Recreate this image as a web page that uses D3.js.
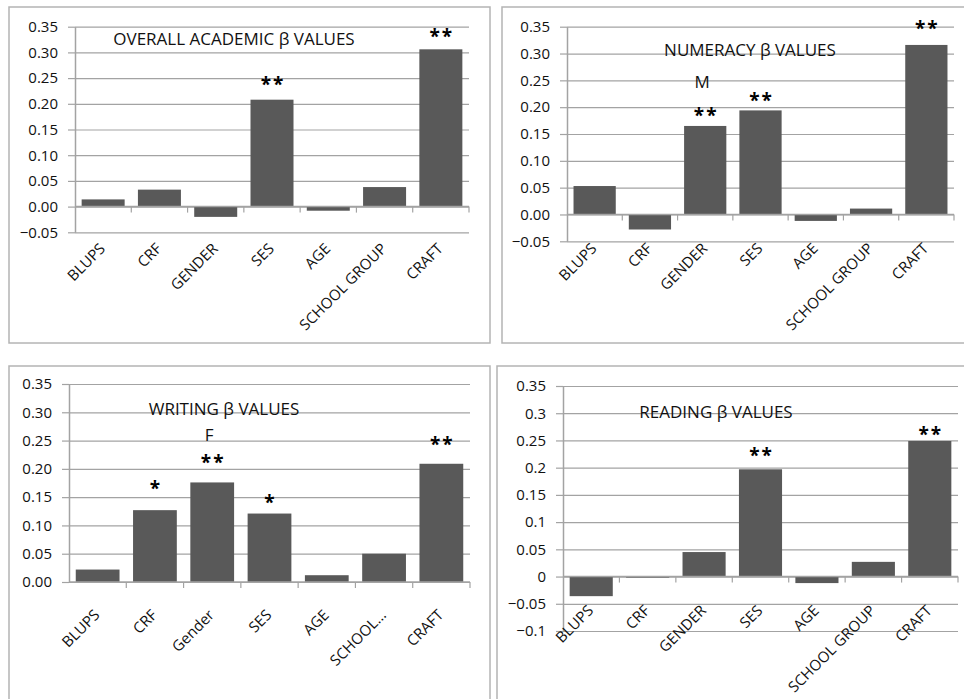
<!DOCTYPE html>
<html>
<head>
<meta charset="utf-8">
<script src="https://cdn.jsdelivr.net/npm/d3@7"></script>
<style>
  body { margin: 0; background: #fff; }
  svg { display: block; font-family: "Open Sans", sans-serif; }
</style>
</head>
<body>
<svg id="chart" width="964" height="699"></svg>
<script>
const categories = ['BLUPS', 'CRF', 'GENDER', 'SES', 'AGE', 'SCHOOL GROUP', 'CRAFT'];
const writingCategories = ['BLUPS', 'CRF', 'Gender', 'SES', 'AGE', 'SCHOOL...', 'CRAFT'];

const overallValues = [0.014, 0.033, -0.020, 0.208, -0.008, 0.038, 0.306];
const numeracyValues = [0.053, -0.028, 0.165, 0.194, -0.012, 0.011, 0.316];
const writingValues = [0.022, 0.127, 0.176, 0.121, 0.012, 0.050, 0.209];
const readingValues = [-0.036, -0.002, 0.045, 0.197, -0.012, 0.027, 0.249];

const ticksFrom005 = [-0.05, 0, 0.05, 0.10, 0.15, 0.20, 0.25, 0.30, 0.35];
const ticksFrom0 = [0, 0.05, 0.10, 0.15, 0.20, 0.25, 0.30, 0.35];
const ticksFrom01 = [-0.1, -0.05, 0, 0.05, 0.1, 0.15, 0.2, 0.25, 0.3, 0.35];

// significance marks and the value level where each one sits
const overallMarks = ['', '', '', '**', '', '', '**'];
const overallMarkLevel = [null, null, null, 0.244, null, null, 0.338];
const numeracyMarks = ['', '', '**', '**', '', '', '**'];
const numeracyMarkLevel = [null, null, 0.191, 0.219, null, null, 0.353];
const numeracyLetters = ['', '', 'M', '', '', '', ''];
const numeracyLetterLevel = [null, null, 0.247, null, null, null, null];
const writingMarks = ['', '*', '**', '*', '', '', '**'];
const writingMarkLevel = [null, 0.171, 0.217, 0.147, null, null, 0.249];
const writingLetters = ['', '', 'F', '', '', '', ''];
const writingLetterLevel = [null, null, 0.260, null, null, null, null];
const readingMarks = ['', '', '', '**', '', '', '**'];
const readingMarkLevel = [null, null, null, 0.228, null, null, 0.267];

const panels = [
  {
    title: 'OVERALL ACADEMIC β VALUES', cats: categories, values: overallValues, ticks: ticksFrom005,
    fmt: d3.format('.2f'), marks: overallMarks, markLevel: overallMarkLevel,
    box: [9, 7, 481, 336], plot: { left: 75, right: 469, top: 26.7, bottom: 232.3 },
    titleX: 234, titleY: 39, labelDrop: 43
  },
  {
    title: 'NUMERACY β VALUES', cats: categories, values: numeracyValues, ticks: ticksFrom005,
    fmt: d3.format('.2f'), marks: numeracyMarks, markLevel: numeracyMarkLevel,
    letters: numeracyLetters, letterLevel: numeracyLetterLevel,
    box: [502, 7, 480, 336], plot: { left: 567, right: 954, top: 26.7, bottom: 241.3 },
    titleX: 750, titleY: 50, labelDrop: 35
  },
  {
    title: 'WRITING β VALUES', cats: writingCategories, values: writingValues, ticks: ticksFrom0,
    fmt: d3.format('.2f'), marks: writingMarks, markLevel: writingMarkLevel,
    letters: writingLetters, letterLevel: writingLetterLevel,
    box: [9, 366, 481, 360], plot: { left: 69, right: 470, top: 384, bottom: 582 },
    titleX: 224, titleY: 409, labelDrop: 34
  },
  {
    title: 'READING β VALUES', cats: categories, values: readingValues, ticks: ticksFrom01,
    fmt: d => d3.format('')(+d.toFixed(2)), marks: readingMarks, markLevel: readingMarkLevel,
    box: [497, 366, 480, 360], plot: { left: 563, right: 958, top: 386, bottom: 631 },
    titleX: 716, titleY: 412, labelDrop: 35
  }
];

const svg = d3.select('#chart');
const gridColor = '#a3a3a3';
const barColor = '#595959';
const textColor = '#111';

panels.forEach(drawPanel);

function drawPanel(p) {
  let g = svg.append('g');

  g.append('rect')
    .attr('x', p.box[0]).attr('y', p.box[1])
    .attr('width', p.box[2]).attr('height', p.box[3])
    .attr('fill', 'none')
    .attr('stroke', '#b4b4b4')
    .attr('stroke-width', 1.5);

  let w = p.plot.right - p.plot.left;
  let yScale = d3.scaleLinear()
    .domain([d3.min(p.ticks), d3.max(p.ticks)])
    .range([p.plot.bottom, p.plot.top]);
  let xScale = d3.scaleBand()
    .domain(p.cats)
    .range([p.plot.left, p.plot.right])
    .paddingInner(0.236)
    .paddingOuter(0.118);

  // gridlines
  let grid = g.append('g')
    .attr('transform', `translate(${p.plot.left}, 0)`)
    .call(d3.axisRight(yScale).tickValues(p.ticks).tickSize(w).tickFormat(''));
  grid.select('.domain').remove();
  grid.selectAll('line').attr('stroke', gridColor).attr('stroke-width', 1.2);

  // y axis with labels
  let yAxis = g.append('g')
    .attr('transform', `translate(${p.plot.left}, 0)`)
    .call(d3.axisLeft(yScale).tickValues(p.ticks).tickSize(7).tickSizeOuter(0)
      .tickPadding(10).tickFormat(p.fmt));
  yAxis.select('.domain').attr('stroke', gridColor).attr('stroke-width', 1.5);
  yAxis.selectAll('line').attr('stroke', gridColor).attr('stroke-width', 1.2);
  yAxis.selectAll('text')
    .attr('fill', textColor)
    .style('font-size', '15px')
    .style('font-family', '"Open Sans", sans-serif');

  let half = xScale.step() * xScale.paddingInner() / 2;
  let y0 = yScale(0);

  // bars
  g.selectAll('rect.bar')
    .data(p.values)
    .enter()
    .append('rect')
    .attr('class', 'bar')
    .attr('x', (d, i) => xScale(p.cats[i]))
    .attr('width', xScale.bandwidth())
    .attr('y', d => Math.min(yScale(d), y0))
    .attr('height', d => Math.max(1, Math.abs(yScale(d) - y0)))
    .attr('fill', barColor);

  // zero axis line and category ticks
  g.append('line')
    .attr('x1', p.plot.left).attr('x2', p.plot.right)
    .attr('y1', y0).attr('y2', y0)
    .attr('stroke', gridColor).attr('stroke-width', 1.5);
  let bounds = p.cats.map(c => xScale(c) - half).slice(1);
  bounds.push(p.plot.right);
  g.selectAll('line.xtick')
    .data(bounds)
    .enter()
    .append('line')
    .attr('class', 'xtick')
    .attr('x1', d => d).attr('x2', d => d)
    .attr('y1', y0).attr('y2', y0 + 6)
    .attr('stroke', gridColor).attr('stroke-width', 1.2);

  // category labels
  g.selectAll('text.cat')
    .data(p.cats)
    .enter()
    .append('text')
    .attr('class', 'cat')
    .attr('transform', d => `translate(${xScale(d) + xScale.bandwidth() / 2 + 3}, ${y0 + p.labelDrop}) rotate(-45)`)
    .attr('text-anchor', 'end')
    .attr('fill', textColor)
    .style('font-size', '15px')
    .text(d => d);

  // title
  g.append('text')
    .attr('x', p.titleX).attr('y', p.titleY)
    .attr('dy', '0.36em')
    .attr('text-anchor', 'middle')
    .attr('fill', textColor)
    .style('font-size', '17px')
    .text(p.title);

  // significance marks
  p.marks.forEach((m, i) => {
    if (!m) return;
    g.append('text')
      .attr('x', xScale(p.cats[i]) + xScale.bandwidth() / 2 + 1)
      .attr('y', yScale(p.markLevel[i]) + 10)
      .attr('text-anchor', 'middle')
      .attr('fill', '#000')
      .style('font-size', '19px')
      .style('font-weight', 'bold')
      .style('letter-spacing', '2px')
      .text(m);
  });
  if (p.letters) {
    p.letters.forEach((m, i) => {
      if (!m) return;
      g.append('text')
        .attr('x', xScale(p.cats[i]) + xScale.bandwidth() / 2 - 3)
        .attr('y', yScale(p.letterLevel[i]))
        .attr('dy', '0.36em')
        .attr('text-anchor', 'middle')
        .attr('fill', textColor)
        .style('font-size', '17px')
        .text(m);
    });
  }
}
</script>
</body>
</html>
